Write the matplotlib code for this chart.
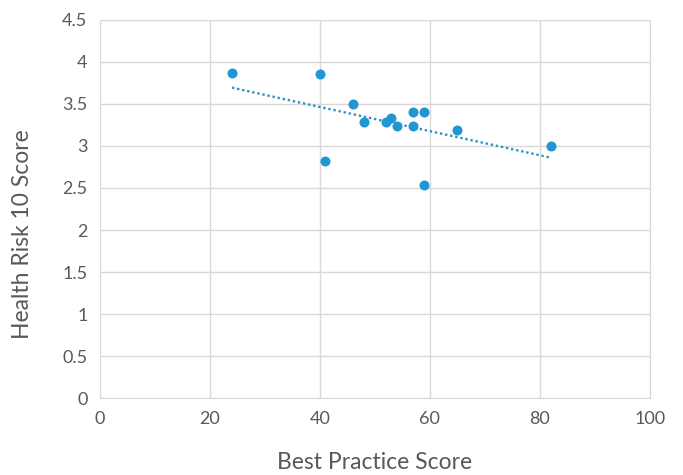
import numpy as np
from matplotlib import pyplot as plt

plt.rcParams['font.family'] = ['Lato', 'DejaVu Sans']

# Best practice score vs health risk score
best_practice = [24, 40, 41, 46, 48, 52, 53, 54, 57, 59, 57, 59, 65, 82]
health_risk = [3.87, 3.86, 2.82, 3.50, 3.28, 3.29, 3.33, 3.24, 3.40, 3.40, 3.24, 2.54, 3.19, 3.00]

x_ticks = [0, 20, 40, 60, 80, 100]
y_ticks = [0, 0.5, 1, 1.5, 2, 2.5, 3, 3.5, 4, 4.5]
y_labels = ["0", "0.5", "1", "1.5", "2", "2.5", "3", "3.5", "4", "4.5"]

blue = "#2196d4"
grid_c = "#d9d9d9"
text_c = "#595959"

fig = plt.figure(figsize=(6.83, 4.75), dpi=100)
ax = fig.add_axes([0.1464, 0.162, 0.805, 0.796])

ax.scatter(best_practice, health_risk, s=52, color=blue, zorder=3, linewidths=0)

# linear trendline (Excel style)
slope, intercept = np.polyfit(best_practice, health_risk, 1)
xs = np.array([min(best_practice), max(best_practice)])
ax.plot(xs, slope * xs + intercept, color="#2f8fc4", linestyle=(0, (1, 1.2)),
        linewidth=1.7, zorder=2)

ax.set_xlim(0, 100)
ax.set_ylim(0, 4.5)
ax.set_xticks(x_ticks)
ax.set_yticks(y_ticks)
ax.set_yticklabels(y_labels)
ax.grid(True, color=grid_c, linewidth=1)
ax.set_axisbelow(True)
for s in ax.spines.values():
    s.set_color(grid_c)
ax.tick_params(length=0, labelsize=13, colors=text_c, pad=9)

ax.set_xlabel("Best Practice Score", fontsize=16.5, color=text_c, labelpad=18)
ax.set_ylabel("Health Risk 10 Score", fontsize=16.5, color=text_c)
ax.yaxis.set_label_coords(-0.122, 0.434)

plt.savefig("out.png")
